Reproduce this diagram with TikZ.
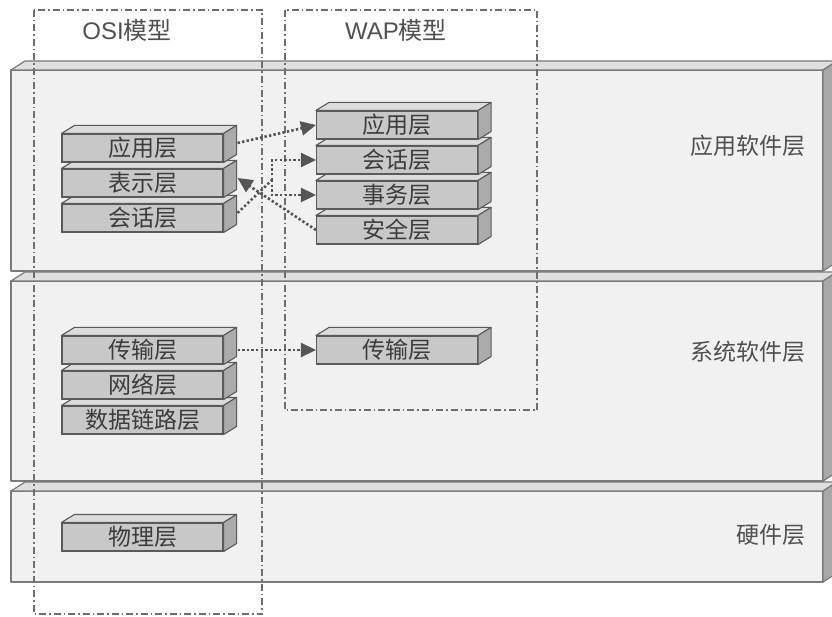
\documentclass[tikz,border=0pt]{standalone}
\usepackage{fontspec}
\setmainfont{Liberation Sans}
\newfontfamily\cjk{Noto Sans CJK SC}
\usetikzlibrary{arrows.meta,calc}
\definecolor{slabfront}{HTML}{F1F1F1}
\definecolor{slabtop}{HTML}{DFDFDF}
\definecolor{slabside}{HTML}{A8A8A8}
\definecolor{slabline}{HTML}{7A7A7A}
\definecolor{boxfront}{HTML}{C8C8C8}
\definecolor{boxtop}{HTML}{DCDCDC}
\definecolor{boxside}{HTML}{ABABAB}
\definecolor{boxline}{HTML}{5A5A5A}
\definecolor{textgray}{HTML}{3C3C3C}
\definecolor{labgray}{HTML}{505050}
\definecolor{arrowgray}{HTML}{555555}
\definecolor{dashgray}{HTML}{6E6E6E}
\tikzset{
  slabface/.style={draw=slabline, line width=1.2pt, line join=round},
  lbox/.style={draw=boxline, fill=boxfront, line width=1.1pt, minimum width=161pt, minimum height=28pt, inner sep=0pt, text=textgray, font=\cjk\fontsize{23}{23}\selectfont},
  ltop/.style={draw=boxline, fill=boxtop, line width=1.1pt, line join=round},
  lside/.style={draw=boxline, fill=boxside, line width=1.1pt, line join=round},
  lab/.style={text=labgray, font=\cjk\fontsize{23}{23}\selectfont, inner sep=0pt},
  modeltitle/.style={text=labgray, font=\fontsize{24}{24}\selectfont, inner sep=0pt},
  dashdot/.style={draw=dashgray, line width=1.1pt, dash pattern=on 7pt off 3pt on 1.5pt off 3pt},
  dotline/.style={draw=arrowgray, line width=2.6pt, dash pattern=on 2.4pt off 2.2pt},
  arr/.style={dotline, -{Triangle[length=15pt,width=14pt]}},
}
\newcommand\bigslab[2]{%
  \filldraw[slabface, fill=slabfront] (11,#1) rectangle (823,#2);
  \filldraw[slabface, fill=slabtop] (11,#1) -- ++(14,-9) -- (837,{#1-9}) -- (823,#1) -- cycle;
  \filldraw[slabface, fill=slabside] (823,#1) -- (837,{#1-9}) -- (837,{#2-9}) -- (823,#2) -- cycle;
}
\newcommand\layerbox[4]{%
  \node[lbox] (#1) at (#2,#3) {#4};
  \filldraw[ltop] (#1.north west) -- ++(13,-8) -- ([shift={(13,-8)}]#1.north east) -- (#1.north east) -- cycle;
  \filldraw[lside] (#1.north east) -- ++(13,-8) -- ([shift={(13,-8)}]#1.south east) -- (#1.south east) -- cycle;
}
\begin{document}
\begin{tikzpicture}[x=1pt,y=-1pt]
\useasboundingbox (0,0) rectangle (832,617);
\clip (0,0) rectangle (832,617);
\fill[white] (0,0) rectangle (832,617);

% big layers
\bigslab{70}{271}
\bigslab{281}{481}
\bigslab{491}{582}

% model frames
\draw[dashdot] (34,10) rectangle (262,614);
\draw[dashdot] (285,10) rectangle (537,410);
\node[modeltitle] (osit) at (127,30) {OSI{\cjk 模型}};
\node[modeltitle] (wapt) at (396,30) {WAP{\cjk 模型}};

% OSI stack (draw lower boxes first)
\layerbox{osi3}{142.5}{218}{会话层}
\layerbox{osi2}{142.5}{183}{表示层}
\layerbox{osi1}{142.5}{148}{应用层}
\layerbox{osi6}{142.5}{420}{数据链路层}
\layerbox{osi5}{142.5}{385}{网络层}
\layerbox{osi4}{142.5}{350}{传输层}
\layerbox{osi7}{142.5}{537}{物理层}

% WAP stack
\layerbox{wap4}{397}{230}{安全层}
\layerbox{wap3}{397}{195}{事务层}
\layerbox{wap2}{397}{160}{会话层}
\layerbox{wap1}{397}{125}{应用层}
\layerbox{wap5}{397}{350}{传输层}

% layer labels
\node[lab, anchor=east] (l1) at (806,146) {应用软件层};
\node[lab, anchor=east] (l2) at (806,352) {系统软件层};
\node[lab, anchor=east] (l3) at (806,535) {硬件层};

% connectors
\coordinate (j) at (272,180);
\draw[arr] ($(osi1.east)+(14,-5)$) -- (wap1.west);
\draw[dotline] ($(osi3.east)+(14,-5)$) -- (j);
\draw[arr] (j) |- (wap2.west);
\draw[arr] (j) |- (wap3.west);
\draw[arr] (wap4.west) -- ($(osi2.east)+(14,-5)$);
\draw[arr] ($(osi4.east)+(14,0)$) -- (wap5.west);
\end{tikzpicture}
\end{document}
